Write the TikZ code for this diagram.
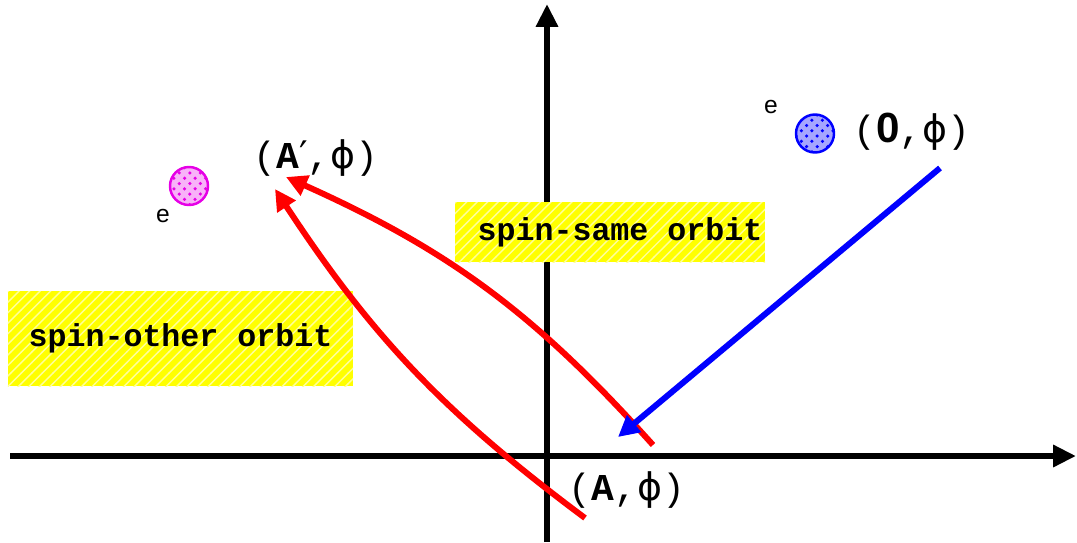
\documentclass[tikz,border=0pt]{standalone}
\usepackage{fontspec}
\setmonofont{Liberation Mono}
\setsansfont{Liberation Sans}
\newfontfamily\symfont{DejaVu Sans}
\usetikzlibrary{arrows.meta,patterns}
\definecolor{boxyel}{RGB}{255,255,0}
\definecolor{arrred}{RGB}{255,0,0}
\definecolor{arrblue}{RGB}{0,0,255}
\definecolor{dotpink}{RGB}{230,0,230}
\newcommand{\phisym}{{\symfont\char"03D5}}

\begin{document}
\begin{tikzpicture}[
  axis/.style={line width=1.7pt,-{Triangle[length=6.5pt,width=6pt]}},
  hop/.style={line width=1.7pt,-{Triangle[length=6pt,width=6pt]}},
  label/.style={font=\ttfamily\fontsize{10.8}{13}\selectfont,inner sep=0pt},
  tag/.style={font=\ttfamily\bfseries\fontsize{9}{11}\selectfont,fill=boxyel,
    postaction={pattern=north east lines,pattern color=white!60!boxyel},
    inner sep=0pt},
  elec/.style={circle,minimum size=0.38cm,inner sep=0pt,line width=0.7pt},
  echar/.style={font=\sffamily\fontsize{7}{8}\selectfont,inner sep=0pt},
]
\useasboundingbox (0,0) rectangle (10.77,5.42);

% --- axes ---
\coordinate (xL) at (0.10,0.86);
\coordinate (xR) at (10.76,0.86);
\coordinate (yB) at (5.47,0);
\coordinate (yT) at (5.47,5.38);
\draw[axis] (xL) -- (xR);
\draw[axis] (yB) -- (yT);

% --- hatched labels ---
\node[tag,minimum width=3.45cm,minimum height=0.95cm] (other) at (1.805,2.035) {spin-other orbit};
\node[tag,minimum width=3.10cm,minimum height=0.60cm] (same) at (6.10,3.10) {\hspace{0.2cm}spin-same orbit};

% --- electrons ---
\node[elec,draw=dotpink,fill=dotpink!30,
  postaction={pattern=crosshatch dots,pattern color=dotpink}] (ep) at (1.89,3.56) {};
\node[elec,draw=arrblue,fill=arrblue!35,
  postaction={pattern=crosshatch dots,pattern color=arrblue}] (eb) at (8.15,4.085) {};
\node[echar] (ep-e) at (1.63,3.26) {e};
\node[echar] (eb-e) at (7.71,4.35) {e};

% --- state labels ---
\node[label] (lblAp) at (3.16,3.84) {(\textbf{A}{\symfont\char"2032},\phisym)};
\node[label] (lblZero) at (9.12,4.10) {({\sffamily\bfseries\large 0},\phisym)};
\node[label] (lblA) at (6.27,0.52) {(\textbf{A},\phisym)};

% --- transitions ---
\coordinate (sameFrom) at (6.53,0.97);
\coordinate (sameTo) at (2.86,3.65);
\coordinate (otherFrom) at (5.85,0.24);
\coordinate (otherTo) at (2.75,3.53);
\coordinate (blueFrom) at (9.40,3.74);
\coordinate (blueTo) at (6.18,1.05);
\draw[hop,arrred] (sameFrom) to[bend right=12] (sameTo);
\draw[hop,arrred] (otherFrom) to[bend left=10] (otherTo);
\draw[hop,arrblue] (blueFrom) -- (blueTo);
\end{tikzpicture}
\end{document}
